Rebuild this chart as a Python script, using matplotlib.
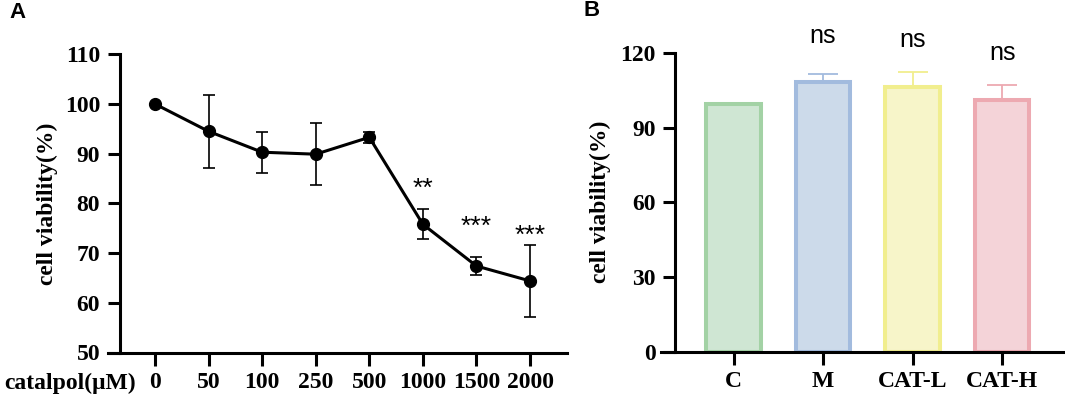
import numpy as np
import matplotlib.pyplot as plt

# panel A: dose response
doses = ['0', '50', '100', '250', '500', '1000', '1500', '2000']
viability = [100.0, 94.5, 90.3, 89.9, 93.3, 75.8, 67.4, 64.4]
viability_sd = [0.0, 7.3, 4.1, 6.2, 1.1, 3.0, 1.8, 7.3]
star_text = ['**', '***', '***']
star_idx = [5, 6, 7]
star_y = [81.6, 73.9, 72.0]

# panel B: groups
groups = ['C', 'M', 'CAT-L', 'CAT-H']
group_vals = [99.4, 108.3, 106.4, 101.2]
group_sd = [0.0, 3.2, 5.8, 5.9]
ns_y = [124.0, 122.4, 117.3]
edge_cols = ['#a3d2a5', '#a2bbde', '#f1ee8e', '#eda9b1']
face_cols = ['#cfe6d3', '#ccdaea', '#f7f5c9', '#f4d3d8']

serif = 'Liberation Serif'
sans = 'Liberation Sans'

fig = plt.figure(figsize=(10.65, 3.94), dpi=100)

# ---- A ----
axA = fig.add_axes([108/1065, 1-352.5/394, (567-108)/1065, (352.5-54.3)/394])
x = np.arange(len(doses))
axA.errorbar(x, viability, yerr=viability_sd, color='black', lw=2.2, marker='o',
             ms=8.5, elinewidth=1.2, capsize=4.5, capthick=1.2, zorder=3)
for t, i, yy in zip(star_text, star_idx, star_y):
    axA.text(i, yy, t, ha='center', va='baseline', fontsize=19, family=sans)
axA.set_xlim(-0.877, 7.69)
axA.set_ylim(50, 110)
axA.set_yticks(np.arange(50, 111, 10))
axA.set_xticks(x)
axA.set_xticklabels(doses)
axA.spines['left'].set_position(('data', -0.66))
axA.set_ylabel('cell viability(%)', fontsize=17, family=serif, fontweight='bold', labelpad=5)
fig.text(4/1065, 1-383/394, 'catalpol(μM)', fontsize=17, family=serif,
         fontweight='bold', ha='left', va='center')

# ---- B ----
axB = fig.add_axes([661/1065, 1-351.5/394, (1063-661)/1065, (351.5-52.9)/394])
xb = np.arange(len(groups))
axB.bar(xb, group_vals, width=0.61, color=face_cols, edgecolor=edge_cols,
        linewidth=2.9, zorder=1)
for i in range(len(groups)):
    if group_sd[i] > 0:
        axB.errorbar(xb[i], group_vals[i], yerr=[[0], [group_sd[i]]], color=edge_cols[i],
                     elinewidth=1.3, capsize=11, capthick=1.3, fmt='none', zorder=0.5)
for i, yy in zip(xb[1:], ns_y):
    axB.text(i, yy, 'ns', ha='center', va='baseline', fontsize=18, family=sans, clip_on=False)
axB.set_xlim(-0.81, 3.68)
axB.set_ylim(0, 120)
axB.set_yticks(np.arange(0, 121, 30))
axB.set_xticks(xb)
axB.set_xticklabels(groups)
axB.spines['left'].set_position(('data', -0.653))
axB.set_ylabel('cell viability(%)', fontsize=17, family=serif, fontweight='bold', labelpad=7)

for ax in (axA, axB):
    for s in ('top', 'right'):
        ax.spines[s].set_visible(False)
    for s in ('left', 'bottom'):
        ax.spines[s].set_linewidth(2.2)
    ax.tick_params(width=2.2, length=9, pad=5)
    for lab in ax.get_xticklabels() + ax.get_yticklabels():
        lab.set_fontfamily(serif)
        lab.set_fontweight('bold')
        lab.set_fontsize(17)

fig.text(17/1065, 1-12/394, 'A', fontsize=16, family=sans, fontweight='bold', ha='center', va='center')
fig.text(592/1065, 1-11/394, 'B', fontsize=16, family=sans, fontweight='bold', ha='center', va='center')

fig.savefig('out.png', dpi=100)
